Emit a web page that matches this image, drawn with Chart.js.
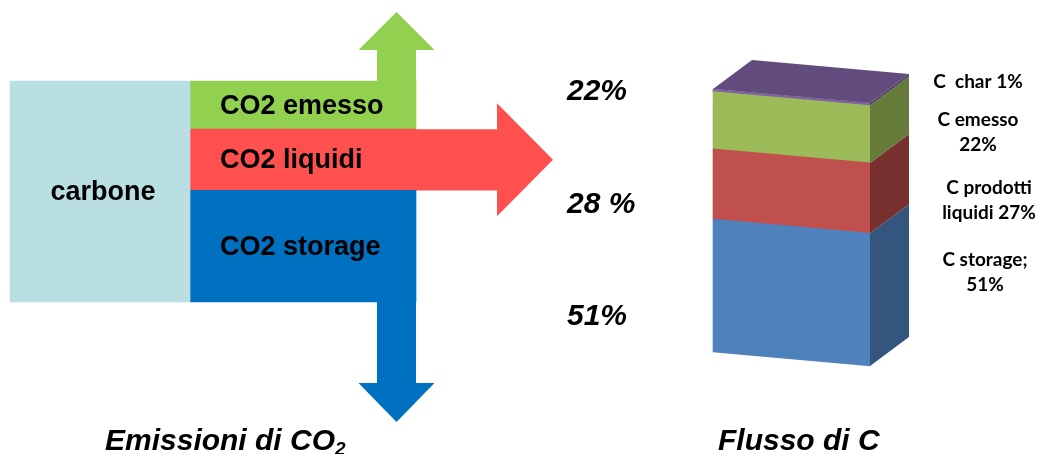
<!DOCTYPE html>
<html>
<head>
<meta charset="utf-8">
<script src="https://cdn.jsdelivr.net/npm/chart.js@4.4.1/dist/chart.umd.min.js"></script>
<style>
  html, body { margin: 0; padding: 0; background: #fff; }
  body { position: relative; width: 1039px; height: 454px; overflow: hidden; }
  canvas { position: absolute; top: 0; }
  #flowChart { left: 0; }
  #carbonChart { left: 600px; }
  .title {
    position: absolute; top: 423px; line-height: 30px; white-space: nowrap;
    font: italic bold 30px "Liberation Sans", Arial, sans-serif; color: #000;
  }
  .title .sub { font-size: 19px; position: relative; top: 5px; }
</style>
</head>
<body>
<canvas id="flowChart" width="680" height="454"></canvas>
<canvas id="carbonChart" width="439" height="454"></canvas>
<div class="title" style="left:105px">Emissioni di CO<span class="sub">2</span></div>
<div class="title" style="left:718px">Flusso di C</div>

<script>
/* ---------- data: CO2 emissions split (left) ---------- */
const sourceLabel = 'carbone';
const flowLabels = ['CO2 storage', 'CO2 liquidi', 'CO2 emesso'];
const flowValues = [51, 28, 22];
const flowPctFormat = ['{v}%', '{v} %', '{v}%'];
const flowColors = ['#0070C0', '#FF5050', '#92D050'];
const sourceColor = '#BADFE3';

/* ---------- data: carbon flow (right) ---------- */
const carbonLabels = ['C storage', 'C prodotti liquidi', 'C emesso', 'C char'];
const carbonValues = [51, 27, 22, 1];
const carbonLabelFormat = ['C storage;\n{v}%', 'C prodotti\nliquidi {v}%', 'C emesso\n{v}%', 'C  char {v}%'];
const carbonFront = ['#4F81BD', '#C0504D', '#9BBB59', '#8064A2'];
const carbonSide = ['#34557D', '#78302E', '#667A3A', '#4F3F63'];
const carbonTop = '#624C7D';

const fmt = (tpl, v) => tpl.replace('{v}', v);
const sum = arr => arr.reduce((a, b) => a + b, 0);

Chart.defaults.animation = false;
Chart.defaults.plugins.legend.display = false;
Chart.defaults.plugins.tooltip.enabled = false;

/* ==========================================================================
   Left: carbone -> emission flows with arrows
   ========================================================================== */
const flowTotal = sum(flowValues);
const boldFont = 'bold 27px "Liberation Sans", Arial, sans-serif';
const pctFont = 'italic bold 30px "Liberation Sans", Arial, sans-serif';

function polygon(ctx, pts, color) {
    ctx.beginPath();
    ctx.moveTo(pts[0][0], pts[0][1]);
    for (let i = 1; i < pts.length; i++) ctx.lineTo(pts[i][0], pts[i][1]);
    ctx.closePath();
    ctx.fillStyle = color;
    ctx.fill();
}

const flowArrows = {
    id: 'flowArrows',
    beforeDatasetsDraw(chart) {
        const ctx = chart.ctx;
        const storage = chart.getDatasetMeta(1).data[1];
        const liquid = chart.getDatasetMeta(2).data[1];
        const emitted = chart.getDatasetMeta(3).data[1];
        const right = emitted.x + emitted.width / 2;
        const stemW = 39, headHalf = 38;
        const cx = right - stemW / 2;

        // up arrow from the emitted band
        polygon(ctx, [
            [right - stemW, emitted.y], [right - stemW, emitted.y - 31],
            [cx - headHalf, emitted.y - 31], [cx, emitted.y - 69],
            [cx + headHalf, emitted.y - 31], [right, emitted.y - 31], [right, emitted.y]
        ], flowColors[2]);

        // down arrow from the storage band
        polygon(ctx, [
            [right - stemW, storage.base], [right - stemW, storage.base + 81],
            [cx - headHalf, storage.base + 81], [cx, storage.base + 120],
            [cx + headHalf, storage.base + 81], [right, storage.base + 81], [right, storage.base]
        ], flowColors[0]);

        // right arrow continuing the liquids band
        const cy = (liquid.y + liquid.base) / 2;
        polygon(ctx, [
            [right - 1, liquid.y], [right + 81, liquid.y], [right + 81, cy - 56.5],
            [right + 137, cy], [right + 81, cy + 56.5], [right + 81, liquid.base], [right - 1, liquid.base]
        ], flowColors[1]);
    },
    afterDatasetsDraw(chart) {
        const ctx = chart.ctx;
        ctx.save();
        ctx.fillStyle = '#000';
        ctx.textBaseline = 'middle';
        ctx.font = boldFont;

        const src = chart.getDatasetMeta(0).data[0];
        ctx.textAlign = 'center';
        ctx.fillText(sourceLabel, src.x + 3, (src.y + src.base) / 2 + 1);

        ctx.textAlign = 'left';
        flowLabels.forEach((label, i) => {
            const el = chart.getDatasetMeta(i + 1).data[1];
            ctx.fillText(label, el.x - el.width / 2 + 30, (el.y + el.base) / 2 + 1);
        });

        // percentages next to the arrows
        const pctBaseline = [325, 213, 100];
        ctx.font = pctFont;
        ctx.textBaseline = 'alphabetic';
        flowValues.forEach((v, i) => {
            ctx.fillText(fmt(flowPctFormat[i], v), 567, pctBaseline[i]);
        });
        ctx.restore();
    }
};

new Chart(document.getElementById('flowChart'), {
    type: 'bar',
    data: {
        labels: [sourceLabel, 'CO2'],
        datasets: [
            { label: sourceLabel, data: [flowTotal, null], backgroundColor: sourceColor, barThickness: 180, clip: false },
            ...flowLabels.map((label, i) => ({
                label,
                data: [null, flowValues[i]],
                backgroundColor: flowColors[i],
                barThickness: 226,
                clip: false
            }))
        ]
    },
    options: {
        responsive: false,
        devicePixelRatio: 1,
        layout: { padding: { left: 100, right: 377, top: 81, bottom: 152 } },
        scales: {
            x: { display: false, stacked: true, offset: false },
            y: { display: false, stacked: true, min: 0, max: flowTotal }
        }
    },
    plugins: [flowArrows]
});

/* ==========================================================================
   Right: 3D stacked column of the carbon flow
   ========================================================================== */
const carbonTotal = sum(carbonValues);
const shear = 14 / 157;          // front face slopes down to the right
const depthX = 39, depthY = -29; // receding side and top faces

const column3d = {
    id: 'column3d',
    beforeDatasetsDraw(chart) {
        const x0 = chart.chartArea.left;
        chart.ctx.save();
        chart.ctx.transform(1, shear, 0, 1, 0, -shear * x0);
    },
    afterDatasetsDraw(chart) {
        const ctx = chart.ctx;
        ctx.restore();
        const x0 = chart.chartArea.left;

        carbonValues.forEach((v, i) => {
            const el = chart.getDatasetMeta(i).data[0];
            const xl = el.x - el.width / 2;
            const xr = el.x + el.width / 2;
            const dr = shear * (xr - x0);
            const dl = shear * (xl - x0);
            // side face
            polygon(ctx, [
                [xr, el.y + dr], [xr + depthX, el.y + dr + depthY],
                [xr + depthX, el.base + dr + depthY], [xr, el.base + dr]
            ], carbonSide[i]);
            // top face on the last segment
            if (i === carbonValues.length - 1) {
                polygon(ctx, [
                    [xl, el.y + dl], [xr, el.y + dr],
                    [xr + depthX, el.y + dr + depthY], [xl + depthX, el.y + dl + depthY]
                ], carbonTop);
            }
        });

        // data labels beside the column
        const labelPos = [[385, 260], [389, 188], [378, 120], [378, 82]];
        ctx.save();
        ctx.fillStyle = '#000';
        ctx.font = 'bold 19px Lato, "Open Sans", sans-serif';
        ctx.textAlign = 'center';
        ctx.textBaseline = 'middle';
        carbonValues.forEach((v, i) => {
            const lines = fmt(carbonLabelFormat[i], v).split('\n');
            lines.forEach((line, j) => {
                ctx.fillText(line, labelPos[i][0], labelPos[i][1] + j * 25);
            });
        });
        ctx.restore();
    }
};

new Chart(document.getElementById('carbonChart'), {
    type: 'bar',
    data: {
        labels: ['C'],
        datasets: carbonLabels.map((label, i) => ({
            label,
            data: [carbonValues[i]],
            backgroundColor: carbonFront[i],
            barPercentage: 1,
            categoryPercentage: 1,
            clip: false
        }))
    },
    options: {
        responsive: false,
        devicePixelRatio: 1,
        layout: { padding: { left: 113, right: 169, top: 89, bottom: 102 } },
        scales: {
            x: { display: false, stacked: true },
            y: { display: false, stacked: true, min: 0, max: carbonTotal }
        }
    },
    plugins: [column3d]
});
</script>
</body>
</html>
